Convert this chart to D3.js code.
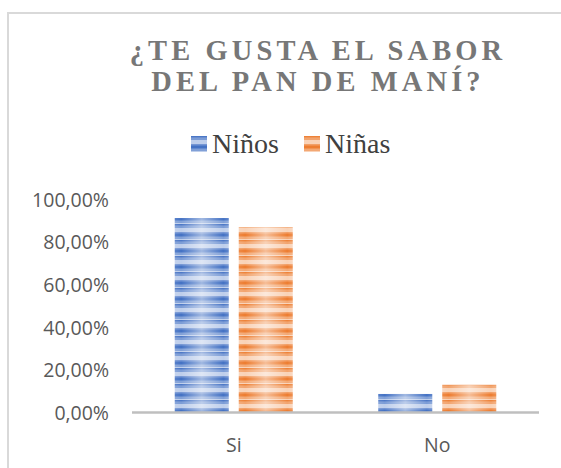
<!DOCTYPE html>
<html>
<head>
<meta charset="utf-8">
<script src="https://cdn.jsdelivr.net/npm/d3@7"></script>
<style>
body { margin: 0; background: #fff; }
svg { display: block; }
</style>
</head>
<body>
<svg></svg>
<script>
let categories = ["Si", "No"]
let series = ["Niños", "Niñas"]
let ninos = [0.913, 0.087]
let ninas = [0.87, 0.13]
let yTicks = [0, 0.2, 0.4, 0.6, 0.8, 1]
let titleLines = ["¿TE GUSTA EL SABOR", "DEL PAN DE MANÍ?"]

let colors = { "Niños": "#4472c4", "Niñas": "#ed7d31" }
let values = { "Niños": ninos, "Niñas": ninas }

let w = 561,
    h = 468

let svg = d3.select("svg")
    .attr("width", w)
    .attr("height", h)

let locale = d3.formatLocale({ decimal: ",", thousands: ".", grouping: [3], currency: ["", "€"] })
let pct = locale.format(".2%")

let defs = svg.append("defs")

// striped fill like the office "texture" bars
series.forEach((s, i) => {
    let p = defs.append("pattern")
        .attr("id", "stripe" + i)
        .attr("patternUnits", "userSpaceOnUse")
        .attr("width", 10)
        .attr("height", 16)
    p.append("rect").attr("width", 10).attr("height", 16).attr("fill", "#fff")
    p.append("rect").attr("width", 10).attr("height", 16).attr("fill", colors[s]).attr("opacity", 0.35)
    let bands = [[0, 1, 0.95], [1, 1, 0.7], [2, 2, 0.55], [8, 1, 0.6], [9, 1, 0.8], [10, 2, 1], [12, 1, 0.75], [13, 2, 0.5]]
    bands.forEach(b => {
        p.append("rect")
            .attr("y", b[0])
            .attr("width", 10)
            .attr("height", b[1])
            .attr("fill", colors[s])
            .attr("opacity", b[2])
    })
})

let glow = defs.append("linearGradient")
    .attr("id", "glow")
    .attr("x1", 0).attr("x2", 1).attr("y1", 0).attr("y2", 0)
glow.append("stop").attr("offset", "0%").attr("stop-color", "#fff").attr("stop-opacity", 0.1)
glow.append("stop").attr("offset", "12%").attr("stop-color", "#fff").attr("stop-opacity", 0)
glow.append("stop").attr("offset", "50%").attr("stop-color", "#fff").attr("stop-opacity", 0.5)
glow.append("stop").attr("offset", "90%").attr("stop-color", "#fff").attr("stop-opacity", 0)
glow.append("stop").attr("offset", "100%").attr("stop-color", "#fff").attr("stop-opacity", 0.15)

svg.append("rect")
    .attr("x", 8)
    .attr("y", 13)
    .attr("width", 600)
    .attr("height", 500)
    .attr("fill", "#fff")
    .attr("stroke", "#d9d9d9")
    .attr("stroke-width", 2)

// title
svg.append("g").selectAll("text")
    .data(titleLines)
    .enter().append("text")
    .attr("x", 318)
    .attr("y", (d, i) => 59.5 + i * 31.5)
    .attr("text-anchor", "middle")
    .attr("font-family", "'Liberation Serif', 'Times New Roman', serif")
    .attr("font-weight", "bold")
    .attr("font-size", 28.5)
    .attr("letter-spacing", 4.1)
    .attr("fill", "#777777")
    .text(d => d)

// legend
let legend = svg.append("g").selectAll("g")
    .data(series)
    .enter().append("g")
    .attr("transform", (d, i) => "translate(" + (191 + i * 113) + ",136)")
legend.append("rect")
    .attr("width", 16)
    .attr("height", 16)
    .attr("fill", (d, i) => "url(#stripe" + i + ")")
legend.append("text")
    .attr("x", 21)
    .attr("y", 17)
    .attr("font-family", "'Liberation Serif', 'Times New Roman', serif")
    .attr("font-size", 28)
    .attr("fill", "#404040")
    .text(d => d)

let y = d3.scaleLinear()
    .domain([0, 1])
    .range([412.5, 199.5])

let x0 = d3.scaleBand()
    .domain(categories)
    .range([132, 539])

let x1 = d3.scaleBand()
    .domain(series)
    .range([(x0.bandwidth() - 118) / 2, (x0.bandwidth() + 118) / 2])
    .paddingInner(0.15625)

let yAxis = svg.append("g")
    .attr("transform", "translate(109,0)")
    .call(d3.axisLeft(y).tickValues(yTicks).tickFormat(pct).tickSize(0).tickPadding(0))
yAxis.select(".domain").remove()
yAxis.selectAll("text")
    .attr("font-family", "'Open Sans', sans-serif")
    .attr("font-size", 19.5)
    .attr("fill", "#595959")
    .attr("dy", "0.35em")

let groups = svg.append("g").selectAll("g")
    .data(categories)
    .enter().append("g")
    .attr("transform", d => "translate(" + x0(d) + ",0)")

let bars = groups.selectAll("g")
    .data((c, ci) => series.map((s, si) => ({ s: s, si: si, v: values[s][ci] })))
    .enter().append("g")
bars.append("rect")
    .attr("x", d => x1(d.s))
    .attr("y", d => y(d.v))
    .attr("width", x1.bandwidth())
    .attr("height", d => y(0) - y(d.v))
    .attr("fill", d => "url(#stripe" + d.si + ")")
bars.append("rect")
    .attr("x", d => x1(d.s))
    .attr("y", d => y(d.v))
    .attr("width", x1.bandwidth())
    .attr("height", d => y(0) - y(d.v))
    .attr("fill", "url(#glow)")

svg.append("line")
    .attr("x1", 132)
    .attr("x2", 539)
    .attr("y1", y(0))
    .attr("y2", y(0))
    .attr("stroke", "#bfbfbf")
    .attr("stroke-width", 2.5)

let xAxis = svg.append("g")
    .attr("transform", "translate(0," + y(0) + ")")
    .call(d3.axisBottom(x0).tickSize(0).tickPadding(0))
xAxis.select(".domain").remove()
xAxis.selectAll("text")
    .attr("font-family", "'Open Sans', sans-serif")
    .attr("font-size", 19.5)
    .attr("fill", "#595959")
    .attr("dy", 0)
    .attr("y", 39)
</script>
</body>
</html>
